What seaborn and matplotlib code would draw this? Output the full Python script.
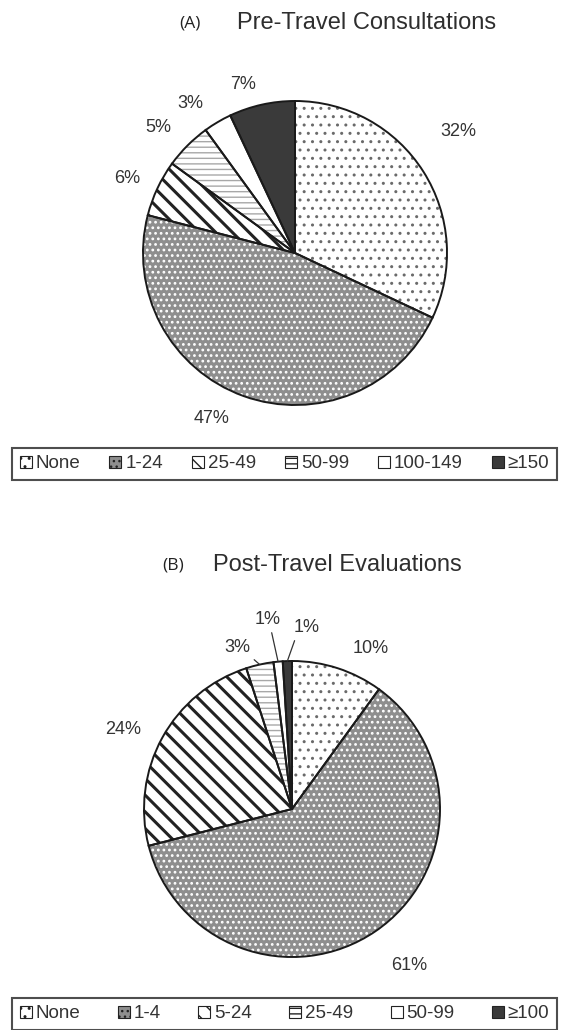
"""
plot.py
--------------------
Two pie charts: pre-travel consultations and post-travel evaluations.
"""

import numpy as np
import matplotlib
matplotlib.use("Agg")
import matplotlib.pyplot as plt
from matplotlib.patches import Patch
import seaborn as sns

sns.set_theme(style="white")
plt.rcParams["font.family"] = ["Liberation Sans", "DejaVu Sans"]
plt.rcParams["hatch.linewidth"] = 1.0

W, H = 569, 1030

# === DATA ===
pre_labels = ["None", "1-24", "25-49", "50-99", "100-149", "≥150"]
pre_values = [32, 47, 6, 5, 3, 7]

post_labels = ["None", "1-4", "5-24", "25-49", "50-99", "≥100"]
post_values = [10, 61, 24, 3, 1, 1]

# === STYLE (one entry per category position, same for both charts) ===
FACES = ["white", "#8e8e8e", "white", "white", "white", "#3a3a3a"]
HATCHES = ["..", "...", "\\\\", "---", "", ""]
HATCH_COLORS = ["#6a6a6a", "white", "#222222", "#a8a8a8", "white", "#3a3a3a"]
HATCH_WIDTHS = [1.0, 1.2, 2.2, 1.0, 1.0, 1.0]
TEXT = "#333333"

# label placement: (distance from centre, angle shift from slice middle)
PRE_LABEL_POS = [(1.34, 4.2), (1.22, -6.8), (1.21, 1.2), (1.22, 2.6), (1.20, 4.4), (1.16, 4.4)]
POST_LABEL_POS = [(1.21, -8.0), (1.32, 2.8), (1.26, 3.5), (1.15, 6.3), (1.29, 1.8), (1.23, -6.5)]
# leader lines for the thin slices: index -> relpos of the line on the text box
POST_LEADERS = {3: (0.95, 0.1), 4: (0.6, 0.0), 5: (0.1, 0.05)}

fig = plt.figure(figsize=(W / 100, H / 100), dpi=100)


def draw_pie(center, radius, values, label_pos, leaders=None):
    """Draw a hatched pie with percentage labels (centre/radius in pixels)."""
    leaders = leaders or {}
    size = 3 * radius
    ax = fig.add_axes([(center[0] - size / 2) / W, 1 - (center[1] + size / 2) / H,
                       size / W, size / H])

    # fill + hatch layer (hatch colour comes from edgecolor)
    fill, _ = ax.pie(values, colors=FACES, startangle=90, counterclock=False,
                     radius=1, wedgeprops=dict(linewidth=0))
    for w, h, hc, hw in zip(fill, HATCHES, HATCH_COLORS, HATCH_WIDTHS):
        w.set_hatch(h)
        w.set_edgecolor(hc)
        if hasattr(w, "set_hatch_linewidth"):
            w.set_hatch_linewidth(hw)

    # outline layer
    edges, _ = ax.pie(values, colors=FACES, startangle=90, counterclock=False,
                      radius=1, wedgeprops=dict(linewidth=1.4, edgecolor="#1a1a1a"))
    for w in edges:
        w.set_facecolor("none")

    # percentage labels
    for i, (w, v, (d, shift)) in enumerate(zip(fill, values, label_pos)):
        mid = (w.theta1 + w.theta2) / 2
        ang = np.deg2rad(mid + shift)
        xt, yt = d * np.cos(ang), d * np.sin(ang)
        if i in leaders:
            m = np.deg2rad(mid)
            ax.annotate(f"{v}%", xy=(np.cos(m), np.sin(m)), xytext=(xt, yt),
                        ha="center", va="center", fontsize=13, color=TEXT,
                        arrowprops=dict(arrowstyle="-", color=TEXT, lw=0.9,
                                        shrinkA=1, shrinkB=0, relpos=leaders[i]))
        else:
            ax.text(xt, yt, f"{v}%", ha="center", va="center", fontsize=13, color=TEXT)

    ax.set_xlim(-1.5, 1.5)
    ax.set_ylim(-1.5, 1.5)
    ax.set_aspect("equal")
    ax.axis("off")
    return ax


def add_title(tag, title, tag_x, title_x, y):
    fig.text(tag_x / W, 1 - y / H, tag, family=["Open Sans", "DejaVu Sans"],
             fontsize=12.5, ha="center", va="center", color="#222222")
    fig.text(title_x / W, 1 - y / H, title, fontsize=17, ha="center", va="center",
             color="#2e2e2e")


def add_legend(labels, top):
    handles = [Patch(facecolor=f, hatch=h, edgecolor="#222222", linewidth=0.8)
               for f, h in zip(FACES, HATCHES)]
    leg = fig.legend(handles, labels, loc="upper left",
                     bbox_to_anchor=(12 / W, 1 - top / H, 545 / W, 0),
                     mode="expand", ncol=6, fontsize=13.5, frameon=True,
                     fancybox=False, borderpad=0.4, handlelength=0.65,
                     handleheight=0.65, handletextpad=0.2, columnspacing=0.8,
                     borderaxespad=0)
    frame = leg.get_frame()
    frame.set_edgecolor("#222222")
    frame.set_linewidth(1.5)
    for t in leg.get_texts():
        t.set_color(TEXT)


# === (A) Pre-travel ===
add_title("(A)", "Pre-Travel Consultations", 190, 367, 23)
draw_pie((295, 253), 152, pre_values, PRE_LABEL_POS)
add_legend(pre_labels, 448)

# === (B) Post-travel ===
add_title("(B)", "Post-Travel Evaluations", 173, 337, 565)
draw_pie((292, 809), 148, post_values, POST_LABEL_POS, POST_LEADERS)
add_legend(post_labels, 998)

fig.savefig("out.png", dpi=100)
